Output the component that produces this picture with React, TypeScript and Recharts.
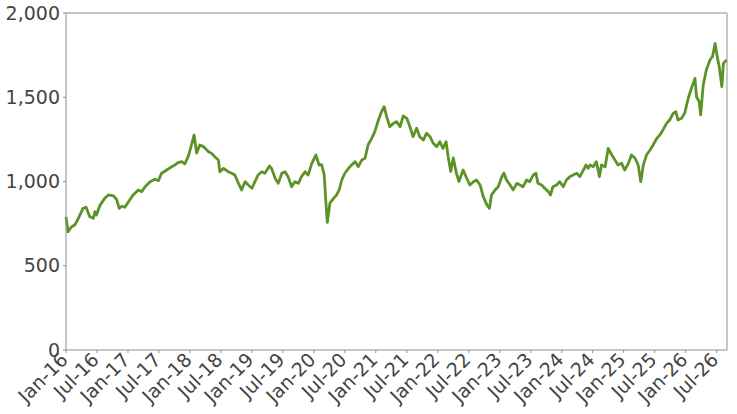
import { LineChart, Line, XAxis, YAxis, ReferenceLine } from "recharts";

// months elapsed since Jan 2016
const monthOffsets = [
  0.0, 0.4, 1.1, 1.7, 2.4, 3.3, 3.9, 4.6, 5.3, 5.6, 5.9, 6.6, 7.5, 8.2, 9.2, 9.8,
  10.3, 10.8, 11.4, 12.1, 13.0, 14.0, 14.7, 15.3, 16.3, 17.2, 17.9, 18.5, 19.5,
  20.5, 21.1, 21.7, 22.4, 23.0, 23.7, 24.3, 24.8,
  25.3, 25.9, 26.6, 27.6, 28.2, 28.8, 29.5, 29.8, 30.5, 31.4, 32.1, 32.7, 33.4,
  34.0, 34.7, 35.3, 36.0, 36.6, 37.2, 37.9, 38.5, 39.4, 39.8, 40.5, 41.1, 41.8,
  42.4, 43.0, 43.7, 44.3, 45.0, 45.6, 46.3, 46.9, 47.6, 48.4, 49.0, 49.5, 50.0,
  50.3, 50.6,
  51.1, 51.8, 52.4, 52.9, 53.4, 54.0, 54.7, 55.3, 56.0, 56.6, 57.3, 57.9, 58.5,
  59.2, 59.8, 60.5, 61.1, 61.6, 62.1, 62.7, 63.4, 64.0, 64.7, 65.3, 66.0, 66.6,
  67.2, 67.9, 68.5, 69.2, 69.8, 70.5, 71.1, 71.8, 72.4, 73.0, 73.6, 74.0, 74.5,
  75.0, 75.6,
  76.1, 76.9, 77.6, 78.2, 78.9, 79.5, 80.2, 80.8, 81.5, 82.0, 82.4, 83.1, 83.7,
  84.4, 84.8, 85.3, 86.0, 86.6, 87.3, 87.9, 88.5, 89.2, 89.8, 90.5, 91.0, 91.4,
  92.1, 92.7, 93.4, 93.8, 94.3, 95.0, 95.6, 96.3, 96.9, 97.6, 98.2, 98.9, 99.5,
  100.2, 100.7, 101.1,
  101.5, 102.1, 102.7, 103.3, 103.7, 104.4, 105.0, 105.7, 106.3, 106.9, 107.6,
  108.2, 108.9, 109.5, 110.2, 110.8, 111.3, 111.8, 112.4, 113.1, 113.7, 114.4,
  115.0, 115.6, 116.3, 116.9, 117.6, 118.1, 118.5, 119.2, 119.8, 120.5, 121.1,
  121.8, 122.1, 122.6, 122.9, 123.4, 124.0, 124.7, 125.2, 125.7, 126.1, 126.5,
  127.0, 127.3, 127.9,
];

const indexValues = [
  790, 702, 732, 742, 782, 841, 847, 791, 782, 821, 801, 860, 900, 920, 914, 894,
  841, 853, 847, 880, 920, 950, 940, 969, 999, 1013, 1005, 1049, 1068,
  1088, 1098, 1112, 1118, 1104, 1151, 1217, 1276,
  1169, 1217, 1207, 1177, 1167, 1147, 1128, 1058, 1078, 1058, 1049, 1039, 989,
  950, 999, 979, 960, 999, 1039, 1058, 1049, 1092, 1078, 1019, 989, 1049,
  1058, 1029, 969, 999, 989, 1029, 1058, 1039, 1108, 1157, 1098, 1100, 1040,
  890, 757,
  871, 900, 920, 950, 1009, 1049, 1078, 1098, 1118, 1088, 1128, 1138, 1217,
  1256, 1296, 1365, 1414, 1444, 1385, 1325, 1345, 1355, 1325, 1389, 1375, 1325,
  1266, 1316, 1266, 1246, 1286, 1266, 1227, 1207, 1236, 1197, 1236, 1147, 1060,
  1140, 1049,
  1000, 1068, 1019, 979, 999, 1009, 979, 910, 861, 841, 920, 950, 969,
  1029, 1049, 1009, 979, 950, 989, 979, 969, 1009, 999, 1039, 1049, 989,
  979, 960, 940, 920, 969, 979, 999, 969, 1009, 1029, 1039, 1049, 1029,
  1068, 1098, 1078,
  1098, 1088, 1118, 1029, 1098, 1088, 1197, 1157, 1128, 1098, 1108,
  1068, 1108, 1157, 1138, 1098, 999, 1098, 1157, 1187, 1217, 1256,
  1276, 1306, 1345, 1365, 1405, 1414, 1365, 1375, 1405, 1494, 1553,
  1612, 1503, 1474, 1395, 1573, 1662, 1721, 1741, 1820, 1741, 1681,
  1563, 1701, 1721,
];

const tickMonths = [0, 6, 12, 18, 24, 30, 36, 42, 48, 54, 60, 66, 72, 78, 84, 90, 96, 102, 108, 114, 120, 126];
const tickLabels = [
  "Jan-16", "Jul-16", "Jan-17", "Jul-17", "Jan-18", "Jul-18", "Jan-19", "Jul-19",
  "Jan-20", "Jul-20", "Jan-21", "Jul-21", "Jan-22", "Jul-22", "Jan-23", "Jul-23",
  "Jan-24", "Jul-24", "Jan-25", "Jul-25", "Jan-26", "Jul-26",
];
const valueTicks = [0, 500, 1000, 1500, 2000];

const data = monthOffsets.map((m, i) => ({ m, value: indexValues[i] }));

const FONT = "'DejaVu Sans', sans-serif";
const TEXT_COLOR = "#444";
const AXIS_COLOR = "#8f8f8f";
const LINE_COLOR = "#5b9327";

function DateTick({ x, y, payload }: any) {
  const label = tickLabels[tickMonths.indexOf(payload.value)];
  return (
    <g transform={`translate(${x + 3},${y + 6})`}>
      <text
        textAnchor="end"
        transform="rotate(-45)"
        fontFamily={FONT}
        fontSize={19}
        fill={TEXT_COLOR}
      >
        {label}
      </text>
    </g>
  );
}

export default function App() {
  return (
    <div style={{ position: "absolute", left: 0, top: 0, background: "#fff" }}>
      <LineChart
        width={737}
        height={414}
        data={data}
        margin={{ top: 13, right: 10, left: 0, bottom: 0 }}
      >
        <XAxis
          dataKey="m"
          type="number"
          domain={[0, 128]}
          ticks={tickMonths}
          interval={0}
          height={64}
          tick={<DateTick />}
          tickSize={3}
          tickMargin={2}
          axisLine={{ stroke: AXIS_COLOR }}
          tickLine={{ stroke: AXIS_COLOR }}
        />
        <YAxis
          type="number"
          domain={[0, 2000]}
          ticks={valueTicks}
          width={66}
          tickSize={3}
          tickMargin={3}
          tickFormatter={(v: number) => v.toLocaleString("en-US")}
          tick={{ fontFamily: FONT, fontSize: 19, fill: TEXT_COLOR }}
          axisLine={{ stroke: AXIS_COLOR }}
          tickLine={{ stroke: AXIS_COLOR }}
        />
        <ReferenceLine y={2000} stroke={AXIS_COLOR} />
        <ReferenceLine x={128} stroke={AXIS_COLOR} />
        <Line
          type="linear"
          dataKey="value"
          stroke={LINE_COLOR}
          strokeWidth={2.8}
          strokeLinejoin="round"
          dot={false}
          isAnimationActive={false}
        />
      </LineChart>
    </div>
  );
}
